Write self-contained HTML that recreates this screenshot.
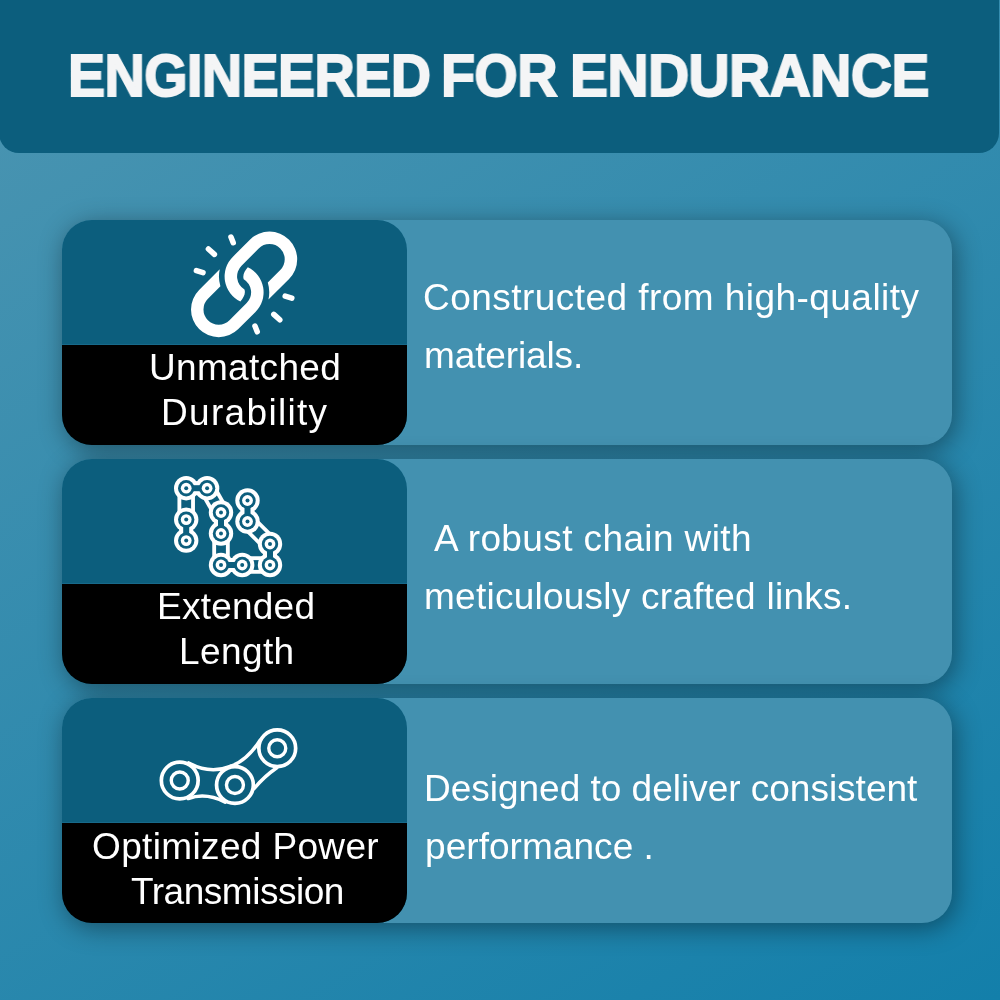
<!DOCTYPE html>
<html>
<head>
<meta charset="utf-8">
<title>Engineered for Endurance</title>
<style>
html,body{margin:0;padding:0;}
body{width:1000px;height:1000px;overflow:hidden;position:relative;font-family:"Liberation Sans",sans-serif;
 background:linear-gradient(149deg,#4c95b1 0%,#137faa 100%);}
.hdr{position:absolute;left:-1px;top:-20px;width:1000px;height:173px;background:#0c5e7d;border-radius:20px;}
.card{position:absolute;left:61.5px;width:890.5px;height:225px;border-radius:30px;background:#4391b0;
 box-shadow:3px 5px 26px rgba(0,0,0,0.40);}
.box{position:absolute;left:0.5px;top:0;width:344.5px;height:225px;border-radius:30px;background:#0c5e7d;overflow:hidden;}
.blk{position:absolute;left:0;right:0;bottom:0;background:#000;border-top:1px solid #17698a;}
.t{position:absolute;white-space:pre;transform-origin:0 0;line-height:normal;will-change:transform;}
svg{position:absolute;overflow:visible;}
</style>
</head>
<body>
<div class="hdr"></div>

<div class="card" style="top:220px"><div class="box"><div class="blk" style="top:124px"></div></div></div>
<div class="card" style="top:459px"><div class="box"><div class="blk" style="top:124px"></div></div></div>
<div class="card" style="top:698px"><div class="box"><div class="blk" style="top:124px"></div></div></div>

<svg style="left:185px;top:225px" width="120" height="120" viewBox="0 0 1000 1000"><g><path d="M289.6,368.8 L117.7,540.7 A231,231 0 0 0 117.7,867.3 A231,231 0 0 0 444.3,867.3 L587.3,724.3 A231,231 0 0 0 523.4,352.5 C497.4,382.5 477.4,418.1 489.4,452.1 A127,127 0 0 1 513.8,650.8 L370.8,793.8 A127,127 0 0 1 191.2,793.8 A127,127 0 0 1 191.2,614.2 L295.1,510.3 A278,278 0 0 1 289.6,368.8 Z" fill="#fff"/><g stroke="#fff" stroke-width="46" stroke-linecap="round"><line x1="383" y1="100" x2="402" y2="148"/><line x1="195" y1="200" x2="245" y2="245"/><line x1="95" y1="380" x2="150" y2="397"/></g></g><g transform="rotate(180 492.5 495)"><path d="M289.6,368.8 L117.7,540.7 A231,231 0 0 0 117.7,867.3 A231,231 0 0 0 444.3,867.3 L587.3,724.3 A231,231 0 0 0 523.4,352.5 C497.4,382.5 477.4,418.1 489.4,452.1 A127,127 0 0 1 513.8,650.8 L370.8,793.8 A127,127 0 0 1 191.2,793.8 A127,127 0 0 1 191.2,614.2 L295.1,510.3 A278,278 0 0 1 289.6,368.8 Z" fill="#fff"/><g stroke="#fff" stroke-width="46" stroke-linecap="round"><line x1="383" y1="100" x2="402" y2="148"/><line x1="195" y1="200" x2="245" y2="245"/><line x1="95" y1="380" x2="150" y2="397"/></g></g></svg>
<svg style="left:0;top:0" width="1000" height="1000" viewBox="0 0 1000 1000"><line x1="186.2" y1="488.2" x2="186.2" y2="519.6" stroke="#fff" stroke-width="17.5"/><line x1="207.1" y1="488.2" x2="221" y2="512.5" stroke="#fff" stroke-width="17.5"/><line x1="221" y1="533.5" x2="221" y2="565" stroke="#fff" stroke-width="17.5"/><line x1="242.2" y1="565" x2="270" y2="565" stroke="#fff" stroke-width="17.5"/><line x1="247.5" y1="521.5" x2="270" y2="544" stroke="#fff" stroke-width="17.5"/><line x1="186.2" y1="488.2" x2="186.2" y2="519.6" stroke="#0c5e7d" stroke-width="9.8"/><line x1="207.1" y1="488.2" x2="221" y2="512.5" stroke="#0c5e7d" stroke-width="9.8"/><line x1="221" y1="533.5" x2="221" y2="565" stroke="#0c5e7d" stroke-width="9.8"/><line x1="242.2" y1="565" x2="270" y2="565" stroke="#0c5e7d" stroke-width="9.8"/><line x1="247.5" y1="521.5" x2="270" y2="544" stroke="#0c5e7d" stroke-width="9.8"/><circle cx="186.2" cy="488.2" r="12.2" fill="#fff"/><circle cx="207.1" cy="488.2" r="12.2" fill="#fff"/><line x1="186.2" y1="488.2" x2="207.1" y2="488.2" stroke="#fff" stroke-width="14"/><circle cx="186.2" cy="519.6" r="12.2" fill="#fff"/><circle cx="186.2" cy="540.6" r="12.2" fill="#fff"/><line x1="186.2" y1="519.6" x2="186.2" y2="540.6" stroke="#fff" stroke-width="14"/><circle cx="221" cy="512.5" r="12.2" fill="#fff"/><circle cx="221" cy="533.5" r="12.2" fill="#fff"/><line x1="221" y1="512.5" x2="221" y2="533.5" stroke="#fff" stroke-width="14"/><circle cx="221" cy="565" r="12.2" fill="#fff"/><circle cx="242.2" cy="565" r="12.2" fill="#fff"/><line x1="221" y1="565" x2="242.2" y2="565" stroke="#fff" stroke-width="14"/><circle cx="270" cy="565" r="12.2" fill="#fff"/><circle cx="270" cy="544" r="12.2" fill="#fff"/><line x1="270" y1="565" x2="270" y2="544" stroke="#fff" stroke-width="14"/><circle cx="247.5" cy="500.5" r="12.2" fill="#fff"/><circle cx="247.5" cy="521.5" r="12.2" fill="#fff"/><line x1="247.5" y1="500.5" x2="247.5" y2="521.5" stroke="#fff" stroke-width="14"/><circle cx="186.2" cy="488.2" r="8.2" fill="#0c5e7d"/><circle cx="207.1" cy="488.2" r="8.2" fill="#0c5e7d"/><line x1="186.2" y1="488.2" x2="207.1" y2="488.2" stroke="#0c5e7d" stroke-width="6"/><circle cx="186.2" cy="519.6" r="8.2" fill="#0c5e7d"/><circle cx="186.2" cy="540.6" r="8.2" fill="#0c5e7d"/><line x1="186.2" y1="519.6" x2="186.2" y2="540.6" stroke="#0c5e7d" stroke-width="6"/><circle cx="221" cy="512.5" r="8.2" fill="#0c5e7d"/><circle cx="221" cy="533.5" r="8.2" fill="#0c5e7d"/><line x1="221" y1="512.5" x2="221" y2="533.5" stroke="#0c5e7d" stroke-width="6"/><circle cx="221" cy="565" r="8.2" fill="#0c5e7d"/><circle cx="242.2" cy="565" r="8.2" fill="#0c5e7d"/><line x1="221" y1="565" x2="242.2" y2="565" stroke="#0c5e7d" stroke-width="6"/><circle cx="270" cy="565" r="8.2" fill="#0c5e7d"/><circle cx="270" cy="544" r="8.2" fill="#0c5e7d"/><line x1="270" y1="565" x2="270" y2="544" stroke="#0c5e7d" stroke-width="6"/><circle cx="247.5" cy="500.5" r="8.2" fill="#0c5e7d"/><circle cx="247.5" cy="521.5" r="8.2" fill="#0c5e7d"/><line x1="247.5" y1="500.5" x2="247.5" y2="521.5" stroke="#0c5e7d" stroke-width="6"/><circle cx="186.2" cy="488.2" r="5.4" fill="#fff"/><circle cx="186.2" cy="488.2" r="2.0" fill="#0c5e7d"/><circle cx="207.1" cy="488.2" r="5.4" fill="#fff"/><circle cx="207.1" cy="488.2" r="2.0" fill="#0c5e7d"/><circle cx="186.2" cy="519.6" r="5.4" fill="#fff"/><circle cx="186.2" cy="519.6" r="2.0" fill="#0c5e7d"/><circle cx="186.2" cy="540.6" r="5.4" fill="#fff"/><circle cx="186.2" cy="540.6" r="2.0" fill="#0c5e7d"/><circle cx="221" cy="512.5" r="5.4" fill="#fff"/><circle cx="221" cy="512.5" r="2.0" fill="#0c5e7d"/><circle cx="221" cy="533.5" r="5.4" fill="#fff"/><circle cx="221" cy="533.5" r="2.0" fill="#0c5e7d"/><circle cx="221" cy="565" r="5.4" fill="#fff"/><circle cx="221" cy="565" r="2.0" fill="#0c5e7d"/><circle cx="242.2" cy="565" r="5.4" fill="#fff"/><circle cx="242.2" cy="565" r="2.0" fill="#0c5e7d"/><circle cx="270" cy="565" r="5.4" fill="#fff"/><circle cx="270" cy="565" r="2.0" fill="#0c5e7d"/><circle cx="270" cy="544" r="5.4" fill="#fff"/><circle cx="270" cy="544" r="2.0" fill="#0c5e7d"/><circle cx="247.5" cy="500.5" r="5.4" fill="#fff"/><circle cx="247.5" cy="500.5" r="2.0" fill="#0c5e7d"/><circle cx="247.5" cy="521.5" r="5.4" fill="#fff"/><circle cx="247.5" cy="521.5" r="2.0" fill="#0c5e7d"/></svg>
<svg style="left:0;top:0" width="1000" height="1000" viewBox="0 0 1000 1000"><path d="M188.75,762.95 Q209.75,774.50 230.30,766.40" fill="none" stroke="#fff" stroke-width="3.5" stroke-linecap="round"/><path d="M230.75,766.25 Q247.25,760.40 260.30,740.00" fill="none" stroke="#fff" stroke-width="3.5" stroke-linecap="round"/><path d="M188.30,798.50 Q205.55,791.90 225.20,802.10" fill="none" stroke="#fff" stroke-width="3.5" stroke-linecap="round"/><path d="M254.00,788.75 Q263.75,776.75 276.80,767.75" fill="none" stroke="#fff" stroke-width="3.5" stroke-linecap="round"/><circle cx="179.75" cy="780.50" r="18.4" fill="#0c5e7d" stroke="#fff" stroke-width="3.7"/><circle cx="179.75" cy="780.50" r="8.5" fill="none" stroke="#fff" stroke-width="3.4"/><circle cx="234.95" cy="785.00" r="18.4" fill="#0c5e7d" stroke="#fff" stroke-width="3.7"/><circle cx="234.95" cy="785.00" r="8.5" fill="none" stroke="#fff" stroke-width="3.4"/><circle cx="277.25" cy="748.25" r="18.4" fill="#0c5e7d" stroke="#fff" stroke-width="3.7"/><circle cx="277.25" cy="748.25" r="8.5" fill="none" stroke="#fff" stroke-width="3.4"/></svg>

<div class="t" style="left:67.63px;top:40.50px;font-size:59.5px;font-weight:bold;color:#f4f5f6;-webkit-text-stroke:2.0px #f4f5f6;letter-spacing:-0.500px;transform:scaleX(0.9331)">ENGINEERED</div>
<div class="t" style="left:441.03px;top:40.50px;font-size:59.5px;font-weight:bold;color:#f4f5f6;-webkit-text-stroke:2.0px #f4f5f6;letter-spacing:-0.500px;transform:scaleX(0.9339)">FOR</div>
<div class="t" style="left:570.21px;top:40.50px;font-size:59.5px;font-weight:bold;color:#f4f5f6;-webkit-text-stroke:2.0px #f4f5f6;letter-spacing:-0.500px;transform:scaleX(0.9554)">ENDURANCE</div>
<div class="t" style="left:148.58px;top:347.00px;font-size:37px;color:#fff;letter-spacing:0.326px">Unmatched</div>
<div class="t" style="left:161.00px;top:392.40px;font-size:37px;color:#fff;letter-spacing:1.321px">Durability</div>
<div class="t" style="left:156.80px;top:585.70px;font-size:37px;color:#fff;letter-spacing:0.236px">Extended</div>
<div class="t" style="left:179.00px;top:631.00px;font-size:37px;color:#fff;letter-spacing:0.396px">Length</div>
<div class="t" style="left:92.02px;top:825.60px;font-size:37px;color:#fff;letter-spacing:0.356px">Optimized Power</div>
<div class="t" style="left:130.68px;top:871.20px;font-size:37px;color:#fff;letter-spacing:-0.476px">Transmission</div>
<div class="t" style="left:423.40px;top:277.00px;font-size:37px;color:#fff;letter-spacing:0.453px">Constructed from high-quality</div>
<div class="t" style="left:424.00px;top:335.00px;font-size:37px;color:#fff;letter-spacing:-0.122px">materials.</div>
<div class="t" style="left:434.00px;top:518.00px;font-size:37px;color:#fff;letter-spacing:0.388px">A robust chain with</div>
<div class="t" style="left:424.00px;top:576.00px;font-size:37px;color:#fff;letter-spacing:0.249px">meticulously crafted links.</div>
<div class="t" style="left:424.00px;top:768.00px;font-size:37px;color:#fff;letter-spacing:-0.011px">Designed to deliver consistent</div>
<div class="t" style="left:425.00px;top:825.80px;font-size:37px;color:#fff;letter-spacing:0.052px">performance .</div>
</body>
</html>
